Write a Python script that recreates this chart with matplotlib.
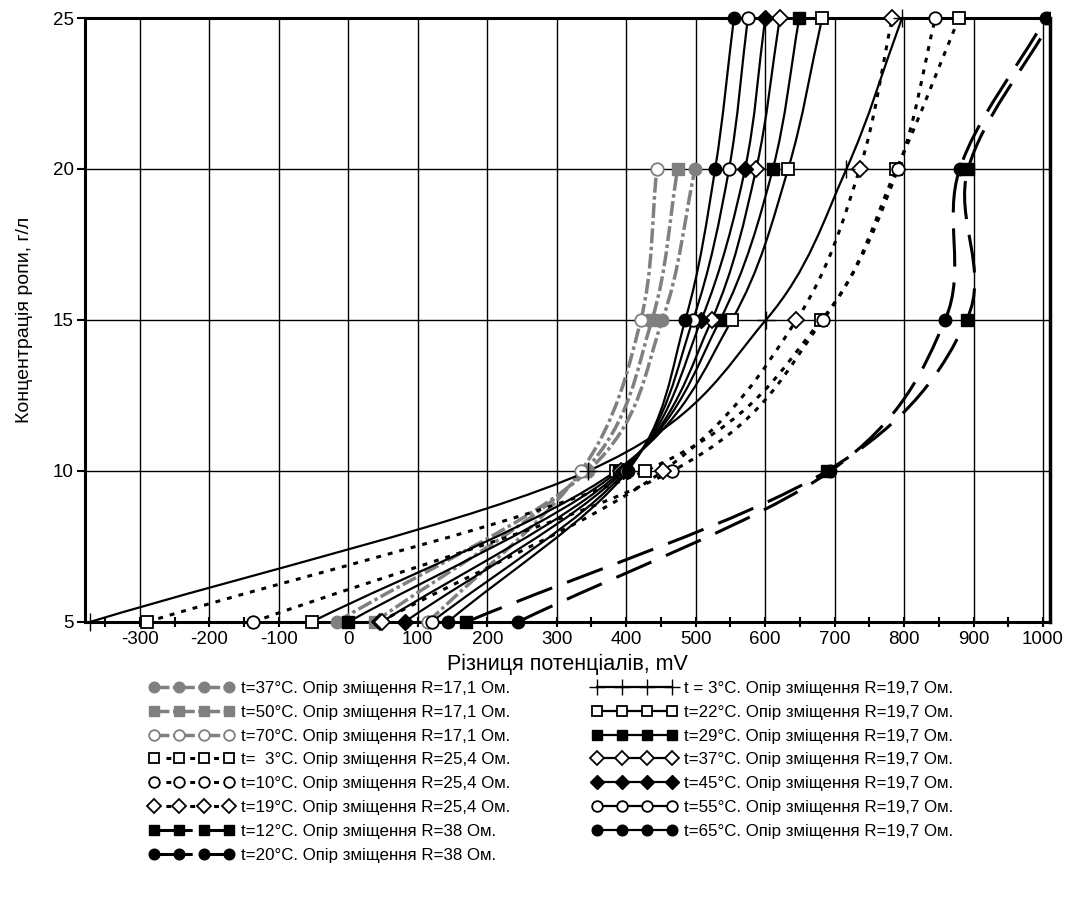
import numpy as np
import matplotlib.pyplot as plt
from matplotlib.path import Path
from matplotlib.patches import PathPatch, Rectangle
from matplotlib.lines import Line2D

plt.rcParams['font.family'] = ['Liberation Sans', 'DejaVu Sans']
plt.rcParams['axes.unicode_minus'] = False

# concentration levels (g/l) where the measured points sit
conc = [5, 10, 15, 20, 25]
conc_short = [5, 10, 15, 20]

# R = 17,1 Ohm (grey, dash-dot)
r171_t37 = [-17, 345, 452, 499]
r171_t50 = [38, 340, 437, 474]
r171_t70 = [115, 335, 421, 444]

# R = 25,4 Ohm (dotted)
r254_t3 = [-290, 427, 681, 789, 879]
r254_t10 = [-137, 466, 683, 791, 845]
r254_t19 = [45, 453, 645, 736, 783]

# R = 38 Ohm (dashed)
r38_t12 = [170, 689, 890, 892, 1014]
r38_t20 = [244, 694, 859, 880, 1004]

# R = 19,7 Ohm (solid)
r197_t3 = [-372, 345, 601, 717, 797]
r197_t22 = [-53, 385, 552, 633, 682]
r197_t29 = [0, 389, 535, 611, 649]
r197_t37 = [48, 393, 523, 587, 621]
r197_t45 = [81, 396, 508, 571, 600]
r197_t55 = [120, 399, 496, 548, 575]
r197_t65 = [143, 402, 485, 528, 555]

GREY = '#808080'
DASHDOT = (0, (4.3, 1.0, 1.0, 1.0))
DOTTED = (0, (1.6, 2.3))
DASHED = (0, (12.5, 5.2))

series = [
    # label, x, y, color, linestyle, lw, marker, face
    ('t=37°C. Опір зміщення R=17,1 Ом.', r171_t37, conc_short, GREY, DASHDOT, 2.5, 'o', GREY),
    ('t=50°C. Опір зміщення R=17,1 Ом.', r171_t50, conc_short, GREY, DASHDOT, 2.5, 's', GREY),
    ('t=70°C. Опір зміщення R=17,1 Ом.', r171_t70, conc_short, GREY, DASHDOT, 2.5, 'o', 'white'),
    ('t=  3°C. Опір зміщення R=25,4 Ом.', r254_t3, conc, 'black', DOTTED, 2.2, 's', 'white'),
    ('t=10°C. Опір зміщення R=25,4 Ом.', r254_t10, conc, 'black', DOTTED, 2.2, 'o', 'white'),
    ('t=19°C. Опір зміщення R=25,4 Ом.', r254_t19, conc, 'black', DOTTED, 2.2, 'D', 'white'),
    ('t=12°C. Опір зміщення R=38 Ом.', r38_t12, conc, 'black', DASHED, 2.2, 's', 'black'),
    ('t=20°C. Опір зміщення R=38 Ом.', r38_t20, conc, 'black', DASHED, 2.2, 'o', 'black'),
    ('t = 3°C. Опір зміщення R=19,7 Ом.', r197_t3, conc, 'black', '-', 1.6, '+', 'black'),
    ('t=22°C. Опір зміщення R=19,7 Ом.', r197_t22, conc, 'black', '-', 1.6, 's', 'white'),
    ('t=29°C. Опір зміщення R=19,7 Ом.', r197_t29, conc, 'black', '-', 1.6, 's', 'black'),
    ('t=37°C. Опір зміщення R=19,7 Ом.', r197_t37, conc, 'black', '-', 1.6, 'D', 'white'),
    ('t=45°C. Опір зміщення R=19,7 Ом.', r197_t45, conc, 'black', '-', 1.6, 'D', 'black'),
    ('t=55°C. Опір зміщення R=19,7 Ом.', r197_t55, conc, 'black', '-', 1.6, 'o', 'white'),
    ('t=65°C. Опір зміщення R=19,7 Ом.', r197_t65, conc, 'black', '-', 1.6, 'o', 'black'),
]


def smooth_path(xs, ys):
    # smoothed line: cubic bezier segments through the measured points
    p = np.column_stack([xs, ys]).astype(float)
    n = len(p)
    verts = [p[0]]
    codes = [Path.MOVETO]
    for i in range(n - 1):
        b, c = p[i], p[i + 1]
        a = p[i - 1] if i > 0 else 2 * b - c
        d = p[i + 2] if i + 2 < n else 2 * c - b
        verts += [b + (c - a) / 6, c - (d - b) / 6, c]
        codes += [Path.CURVE4] * 3
    return Path(verts, codes)


fig = plt.figure(figsize=(10.71, 9.14), dpi=100)
ax = fig.add_axes([0.0794, 0.3195, 0.9010, 0.6608])

# markers may overflow the top/bottom frame but not the right one
mark_clip = Rectangle((0, -0.05), 1.0, 1.1, transform=ax.transAxes)

handles = []
for label, xs, ys, col, ls, lw, mk, face in series:
    ax.add_patch(PathPatch(smooth_path(xs, ys), fill=False, edgecolor=col,
                           lw=lw, linestyle=ls, zorder=3))
    ms = 13 if mk == '+' else (8 if mk == 'D' else 9)
    mew = 1.3 if face == 'white' else 1.0
    pts, = ax.plot(xs, ys, linestyle='none', marker=mk, ms=ms, mfc=face, mec=col,
                   mew=mew, zorder=4)
    pts.set_clip_path(mark_clip)
    handles.append(Line2D([], [], color=col, lw=lw, linestyle=ls, marker=mk,
                          ms=ms * 0.85, mfc=face, mec=col, mew=mew, label=label))

ax.set_xlim(-379, 1010)
ax.set_ylim(5, 25)
ax.set_xticks(np.arange(-300, 1001, 100))
ax.set_xticks(np.arange(-350, 1001, 50), minor=True)
ax.set_yticks([5, 10, 15, 20, 25])
ax.grid(True, which='major', color='black', lw=1.0)
ax.tick_params(axis='x', which='both', direction='inout', length=7, width=1.5,
               labelsize=13.5, pad=3)
ax.tick_params(axis='y', direction='out', length=6, width=1.5, labelsize=13.5, pad=2)
for s in ax.spines.values():
    s.set_linewidth(2.2)
ax.spines['right'].set_linewidth(2.5)

ax.set_xlabel('Різниця потенціалів, mV', fontsize=15.5, labelpad=4)
ax.set_ylabel('Концентрація ропи, г/л', fontsize=14, labelpad=14)

fig.legend(handles=handles, loc='upper left', bbox_to_anchor=(0.139, 0.255),
           ncol=2, frameon=False, fontsize=12.2, numpoints=4, handlelength=5.0,
           handletextpad=0.45, labelspacing=0.52, columnspacing=4.8,
           borderpad=0, borderaxespad=0)

fig.savefig('out.png', dpi=100)
